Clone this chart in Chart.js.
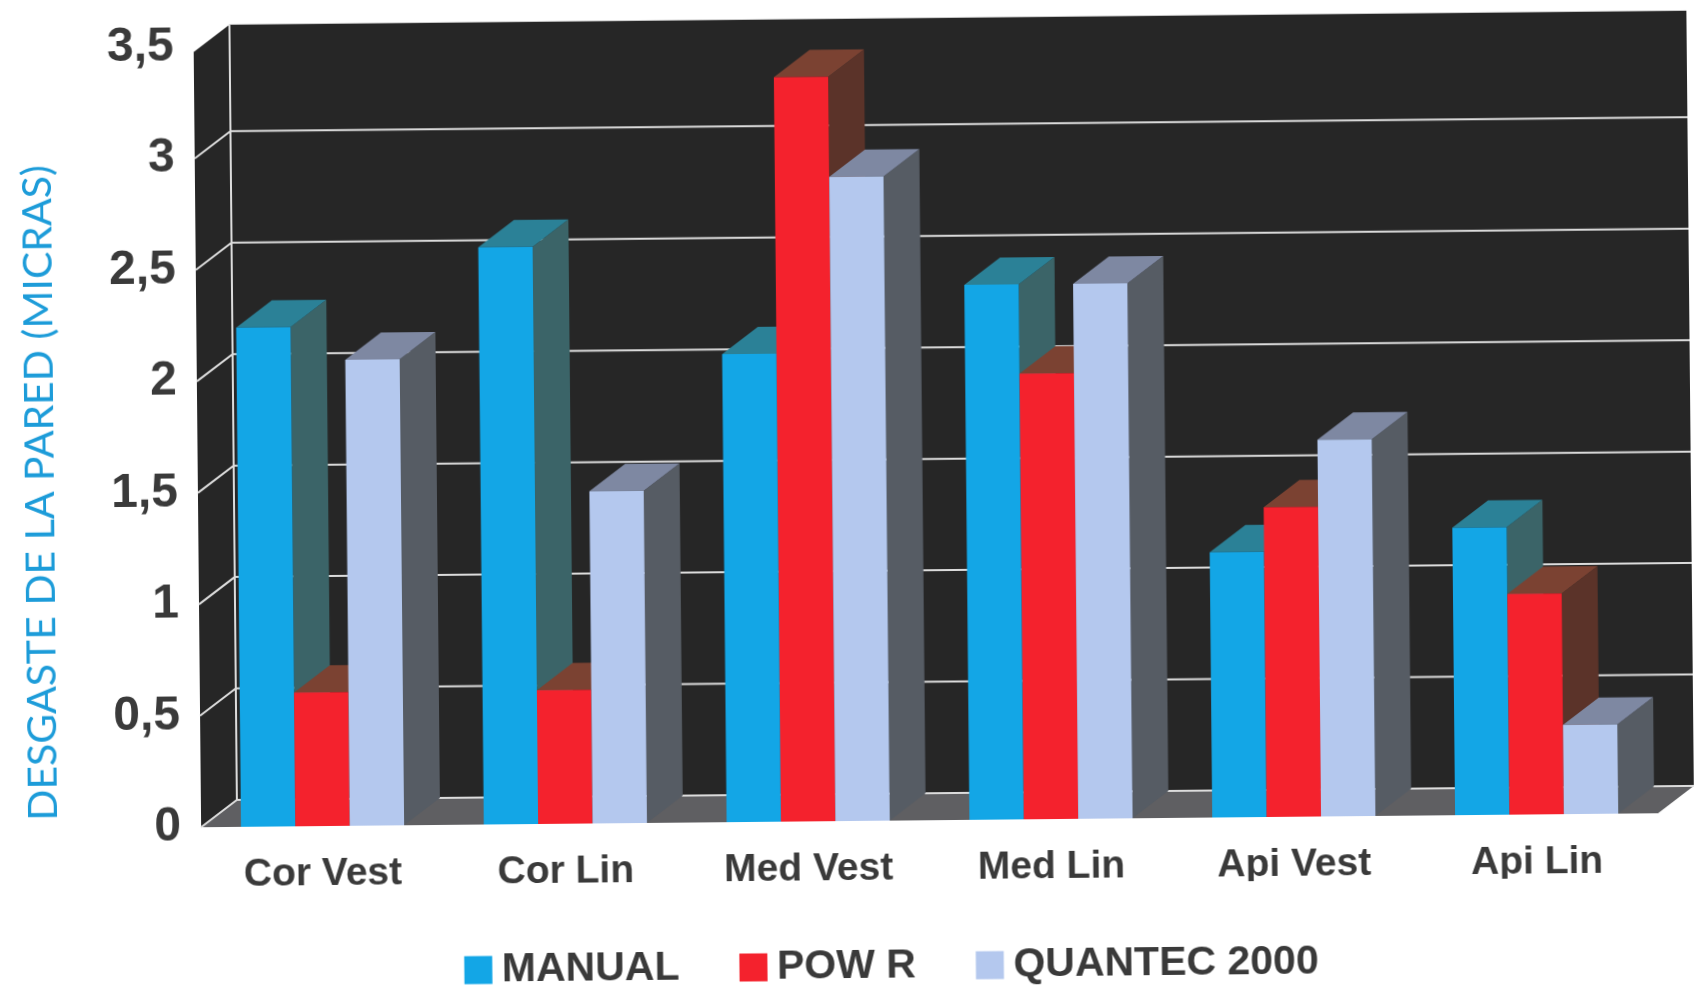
<!DOCTYPE html>
<html>
<head>
<meta charset="utf-8">
<title>Desgaste de la pared</title>
<script src="https://cdn.jsdelivr.net/npm/chart.js@4"></script>
<style>
    html, body { margin: 0; background: #fff; overflow: hidden; }
    /* the original is a scan, slightly turned */
    #wearChart { display: block; transform: rotate(-0.55deg); }
</style>
</head>
<body>
<canvas id="wearChart" width="1698" height="994"></canvas>
<script>
const CATEGORIES = ['Cor Vest', 'Cor Lin', 'Med Vest', 'Med Lin', 'Api Vest', 'Api Lin'];
const MANUAL = [2.24, 2.59, 2.1, 2.4, 1.19, 1.29];
const POW_R = [0.6, 0.6, 3.34, 2.0, 1.39, 0.99];
const QUANTEC = [2.09, 1.49, 2.89, 2.4, 1.69, 0.4];
const Y_TICKS = ['0', '0,5', '1', '1,5', '2', '2,5', '3', '3,5'];

const DEPTH_X = 36;
const DEPTH_Y = 27;
const WALL_INSET = 5; // wall stops a little under the 3,5 mark

const FACES = [
    { top: '#2b8197', side: '#3b6468' },
    { top: '#7b4232', side: '#5b3329' },
    { top: '#7e88a2', side: '#565c64' }
];

function fillPoly(ctx, color, points) {
    ctx.fillStyle = color;
    ctx.beginPath();
    points.forEach(([x, y], i) => (i ? ctx.lineTo(x, y) : ctx.moveTo(x, y)));
    ctx.closePath();
    ctx.fill();
}

// walls, floor and grid of the fake 3D box
const boxPlugin = {
    id: 'box',
    afterLayout(chart) {
        // legend sits off centre in the original
        chart.legend.left += 57;
        chart.legend.right += 57;
        chart.legend.top -= 10;
        // axis title starts a bit above the zero line
        chart.scales.y.bottom -= 8;
    },
    beforeDatasetsDraw(chart) {
        const { ctx, chartArea: a, scales } = chart;
        const bx = a.left + DEPTH_X;
        const br = a.right + DEPTH_X;
        const top = a.top + WALL_INSET;
        ctx.save();
        fillPoly(ctx, '#262626', [[a.left, top], [bx, top - DEPTH_Y], [br, top - DEPTH_Y], [br, a.bottom - DEPTH_Y], [bx, a.bottom - DEPTH_Y], [a.left, a.bottom]]);
        fillPoly(ctx, '#5f5f62', [[a.left, a.bottom], [bx, a.bottom - DEPTH_Y], [br, a.bottom - DEPTH_Y], [a.right, a.bottom]]);

        ctx.strokeStyle = '#dcdcdc';
        ctx.lineWidth = 2;
        ctx.beginPath();
        ctx.moveTo(bx, top - DEPTH_Y);
        ctx.lineTo(bx, a.bottom - DEPTH_Y);
        Y_TICKS.forEach((t, i) => {
            const y = scales.y.getPixelForValue(i * 0.5);
            if (i === Y_TICKS.length - 1) return;
            ctx.moveTo(a.left, y);
            ctx.lineTo(bx, y - DEPTH_Y);
            ctx.lineTo(br, y - DEPTH_Y);
        });
        ctx.stroke();
        ctx.restore();

        // bars go left to right so each one covers the side of the one before
        chart.data.datasets.forEach((ds, i) => {
            const face = FACES[i];
            chart.getDatasetMeta(i).data.forEach(bar => {
                const l = bar.x - bar.width / 2;
                const r = bar.x + bar.width / 2;
                fillPoly(ctx, face.side, [[r, bar.y], [r + DEPTH_X, bar.y - DEPTH_Y], [r + DEPTH_X, bar.base - DEPTH_Y], [r, bar.base]]);
                fillPoly(ctx, face.top, [[l, bar.y], [l + DEPTH_X, bar.y - DEPTH_Y], [r + DEPTH_X, bar.y - DEPTH_Y], [r, bar.y]]);
                bar.draw(ctx);
            });
        });
        return false;
    }
};

new Chart(document.getElementById('wearChart'), {
    type: 'bar',
    plugins: [boxPlugin],
    data: {
        labels: CATEGORIES,
        datasets: [
            { label: 'MANUAL', data: MANUAL, backgroundColor: '#13a6e6' },
            { label: 'POW R', data: POW_R, backgroundColor: '#f4222d' },
            { label: 'QUANTEC 2000', data: QUANTEC, backgroundColor: '#b4c8ee' }
        ]
    },
    options: {
        responsive: false,
        animation: false,
        categoryPercentage: 0.672,
        barPercentage: 1,
        layout: { padding: { top: 38, right: 43, bottom: -13, left: 16 } },
        plugins: {
            tooltip: { enabled: false },
            legend: {
                position: 'bottom',
                labels: {
                    // small box with a fat border, keeps the label close to it
                    boxWidth: 6,
                    boxHeight: 6,
                    padding: 71,
                    color: '#3a3a3a',
                    font: { family: '"Liberation Sans"', size: 41, weight: 'bold' },
                    generateLabels: chart => Chart.defaults.plugins.legend.labels.generateLabels(chart)
                        .map(item => ({ ...item, strokeStyle: item.fillStyle, lineWidth: 22 }))
                }
            }
        },
        scales: {
            x: {
                grid: { display: false },
                border: { display: false },
                afterFit: scale => { scale.height = 64; },
                ticks: {
                    padding: 17,
                    maxRotation: 0,
                    color: '#3a3a3a',
                    font: { family: '"Liberation Sans"', size: 39, weight: 'bold' }
                }
            },
            y: {
                min: 0,
                max: 3.5,
                grid: { display: false },
                border: { display: false },
                afterFit: scale => { scale.width = 182; },
                title: {
                    display: true,
                    text: 'DESGASTE DE LA PARED (MICRAS)',
                    align: 'start',
                    color: '#1d9cd9',
                    padding: 0,
                    font: { family: 'Lato', size: 41, weight: 'normal' }
                },
                ticks: {
                    stepSize: 0.5,
                    padding: 12,
                    color: '#3a3a3a',
                    font: { family: '"Liberation Sans"', size: 48, weight: 'bold' },
                    callback: (value, i) => Y_TICKS[i]
                }
            }
        }
    }
});
</script>
</body>
</html>
